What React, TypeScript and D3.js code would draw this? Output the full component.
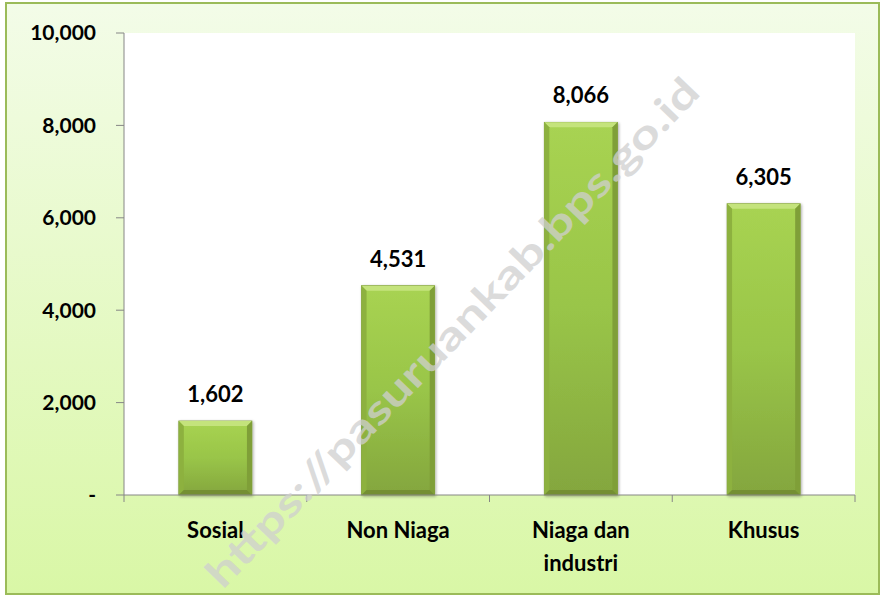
import React from "react";
import { scaleBand, scaleLinear, format } from "d3";

// data
const categories = ["Sosial", "Non Niaga", "Niaga dan industri", "Khusus"];
const categoryLines = [["Sosial"], ["Non Niaga"], ["Niaga dan", "industri"], ["Khusus"]];
const values = [1602, 4531, 8066, 6305];
const yTicks = [0, 2000, 4000, 6000, 8000, 10000];

const W = 881;
const H = 598;
const plot = { left: 124, right: 855, top: 33, bottom: 495 };
const FONT = "Lato, 'Open Sans', sans-serif";

export default function App() {
  const x = scaleBand<string>()
    .domain(categories)
    .range([plot.left, plot.right])
    .paddingInner(0.6)
    .paddingOuter(0.3);
  const band = scaleBand<string>().domain(categories).range([plot.left, plot.right]);
  const y = scaleLinear().domain([0, 10000]).range([plot.bottom, plot.top]);
  const fmt = format(",");
  const bw = x.bandwidth();
  const bev = 5;

  return (
    <svg
      width={W}
      height={H}
      style={{ position: "absolute", left: 0, top: 0, fontFamily: FONT }}
    >
      <defs>
        <linearGradient id="bg" x1="0" y1="0" x2="0" y2="1">
          <stop offset="0" stopColor="#f3fce8" />
          <stop offset="1" stopColor="#d9f7a6" />
        </linearGradient>
        <linearGradient id="barFill" x1="0" y1="0" x2="0" y2="1">
          <stop offset="0" stopColor="#a8d352" />
          <stop offset="0.5" stopColor="#99c548" />
          <stop offset="1" stopColor="#84a63e" />
        </linearGradient>
        <filter id="shadow" x="-20%" y="-20%" width="140%" height="140%">
          <feGaussianBlur in="SourceAlpha" stdDeviation="1.5" />
          <feOffset dx="1" dy="1" />
          <feComponentTransfer>
            <feFuncA type="linear" slope="0.35" />
          </feComponentTransfer>
          <feMerge>
            <feMergeNode />
            <feMergeNode in="SourceGraphic" />
          </feMerge>
        </filter>
      </defs>

      {/* outer frame */}
      <rect x={0} y={0} width={W} height={H} fill="#ffffff" />
      <rect x={6} y={3} width={873} height={591} fill="url(#bg)" stroke="#9bbb59" strokeWidth={2} />

      {/* plot area */}
      <rect
        x={plot.left}
        y={plot.top}
        width={plot.right - plot.left}
        height={plot.bottom - plot.top}
        fill="#ffffff"
      />

      {/* bars */}
      {categories.map((c, i) => {
        const x0 = x(c)!;
        const x1 = x0 + bw;
        const y0 = y(values[i]);
        const y1 = y(0);
        return (
          <g key={c}>
            <g filter="url(#shadow)">
              <rect x={x0} y={y0} width={bw} height={y1 - y0} fill="url(#barFill)" stroke="#7f9c3a" strokeWidth={0.8} />
            </g>
            {/* bevel: top light, sides darker */}
            <polygon
              points={`${x0},${y0} ${x1},${y0} ${x1 - bev},${y0 + bev} ${x0 + bev},${y0 + bev}`}
              fill="#c4e37c"
            />
            <polygon
              points={`${x0},${y0} ${x0 + bev},${y0 + bev} ${x0 + bev},${y1 - bev} ${x0},${y1}`}
              fill="#8db13f"
            />
            <polygon
              points={`${x1},${y0} ${x1 - bev},${y0 + bev} ${x1 - bev},${y1 - bev} ${x1},${y1}`}
              fill="#7f9f38"
            />
            <polygon
              points={`${x0},${y1} ${x0 + bev},${y1 - bev} ${x1 - bev},${y1 - bev} ${x1},${y1}`}
              fill="#748f33"
            />
            <text
              x={x0 + bw / 2}
              y={y0 - 19}
              textAnchor="middle"
              fontSize={22}
              fontWeight="bold"
              fill="#000"
            >
              {fmt(values[i])}
            </text>
          </g>
        );
      })}

      {/* y axis */}
      <line x1={plot.left} x2={plot.left} y1={plot.top} y2={plot.bottom} stroke="#868686" />
      {yTicks.map((t) => (
        <g key={t}>
          <line x1={plot.left - 8} x2={plot.left} y1={y(t)} y2={y(t)} stroke="#868686" />
          <text
            x={96}
            y={y(t)}
            dy="0.35em"
            textAnchor="end"
            fontSize={21}
            fontWeight="bold"
            fill="#000"
          >
            {t === 0 ? "-" : fmt(t)}
          </text>
        </g>
      ))}

      {/* x axis */}
      <line x1={plot.left} x2={plot.right} y1={plot.bottom} y2={plot.bottom} stroke="#868686" />
      {[...categories.map((c) => band(c)!), plot.right].map((tx, i) => (
        <line key={i} x1={tx} x2={tx} y1={plot.bottom} y2={plot.bottom + 7} stroke="#868686" />
      ))}
      {categories.map((c, i) => (
        <text
          key={c}
          x={band(c)! + band.bandwidth() / 2}
          y={538}
          textAnchor="middle"
          fontSize={22}
          fontWeight="bold"
          fill="#000"
        >
          {categoryLines[i].map((l, j) => (
            <tspan key={j} x={band(c)! + band.bandwidth() / 2} dy={j === 0 ? 0 : 33}>
              {l}
            </tspan>
          ))}
        </text>
      ))}

      {/* watermark on top */}
      <text
        x={455}
        y={335}
        transform="rotate(-46 455 335)"
        textAnchor="middle"
        dominantBaseline="middle"
        fontSize={40}
        fontWeight="bold"
        fill="#cfcfcf"
        fillOpacity={0.75}
        textLength={690}
        lengthAdjust="spacingAndGlyphs"
      >
        https://pasuruankab.bps.go.id
      </text>
    </svg>
  );
}
